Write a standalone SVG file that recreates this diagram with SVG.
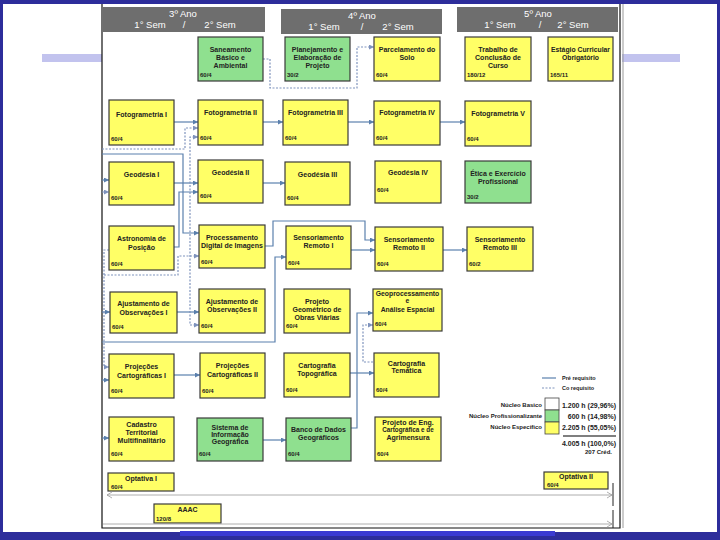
<svg xmlns="http://www.w3.org/2000/svg" width="720" height="540" viewBox="0 0 720 540">
<style>
.y{fill:#ffff66;stroke:#3a3a3a;stroke-width:1.2}
.g{fill:#8fe08f;stroke:#3a3a3a;stroke-width:1.2}
.t{font-family:"Liberation Sans",Arial,sans-serif;font-weight:bold;font-size:7px;fill:#222;text-anchor:middle}
.c{font-family:"Liberation Sans",Arial,sans-serif;font-weight:bold;font-size:6px;fill:#222}
.hd{fill:#6e6e6e}
.ht{font-family:"Liberation Sans",Arial,sans-serif;font-size:9.5px;fill:#fff;text-anchor:middle}
.s{stroke:#5b80ad;stroke-width:1.2;fill:none;marker-end:url(#a)}
.d{stroke:#7f93bd;stroke-width:1.2;stroke-dasharray:2 1.5;fill:none;marker-end:url(#ad)}
.lg{font-family:"Liberation Sans",Arial,sans-serif;font-weight:bold;font-size:6px;fill:#222}
.num{font-family:"Liberation Sans",Arial,sans-serif;font-weight:bold;font-size:7px;fill:#222;text-anchor:end}
</style>
<defs>
<marker id="a" markerUnits="userSpaceOnUse" markerWidth="6" markerHeight="6" refX="5" refY="2.5" orient="auto"><path d="M0,0 L5,2.5 L0,5 z" fill="#5b80ad"/></marker>
<marker id="ad" markerUnits="userSpaceOnUse" markerWidth="6" markerHeight="6" refX="5" refY="2.5" orient="auto-start-reverse"><path d="M0,0 L5,2.5 L0,5 z" fill="#7f93bd"/></marker>
</defs>
<g id="background">
<rect x="0" y="0" width="720" height="540" fill="#2d2d9b"/>
<rect x="3" y="4" width="714" height="528" fill="#ffffff"/>
<rect x="180" y="531" width="375" height="5" fill="#3a3ad2"/>
<rect x="42" y="54" width="60" height="8" fill="#c2c3ee"/>
<rect x="622" y="54" width="58" height="8" fill="#c2c3ee"/>
<path d="M102,4 V528 H620 V4" fill="none" stroke="#111" stroke-width="1.2"/>
<path d="M623,4 V528" fill="none" stroke="#999" stroke-width="1"/>
</g>
<g id="headers">
<rect class="hd" x="103" y="7" width="162" height="25"/>
<text class="ht" x="183" y="17">3º Ano</text>
<text class="ht" x="150" y="28">1° Sem</text><text class="ht" x="184" y="28">/</text><text class="ht" x="220" y="28">2° Sem</text>
<rect class="hd" x="281" y="9" width="161" height="25"/>
<text class="ht" x="362" y="19">4º Ano</text>
<text class="ht" x="324" y="30">1° Sem</text><text class="ht" x="362" y="30">/</text><text class="ht" x="398" y="30">2° Sem</text>
<rect class="hd" x="457" y="7" width="161" height="25"/>
<text class="ht" x="538" y="17">5º Ano</text>
<text class="ht" x="500" y="28">1° Sem</text><text class="ht" x="540" y="28">/</text><text class="ht" x="573" y="28">2° Sem</text>
</g>
<g id="connectors">
<path class="s" d="M174,122 H198"/>
<path class="s" d="M263,122 H283"/>
<path class="s" d="M348,122 H374"/>
<path class="s" d="M440,122 H465"/>
<path class="s" d="M174,183 H198"/>
<path class="s" d="M174,247 H179 V192 H198"/>
<path class="s" d="M263,183 H285"/>
<path class="s" d="M102,154 H183 V233 H199"/>
<path class="s" d="M265,246 H273 V221 H365 V240 H375"/>
<path class="s" d="M351,250 H375"/>
<path class="s" d="M443,250 H467"/>
<path class="s" d="M102,342 H275 V257 H286"/>
<path class="s" d="M177,312 H199"/>
<path class="s" d="M174,375 H200"/>
<path class="s" d="M350,373 H374"/>
<path class="s" d="M351,428 H357 V313 H373"/>
<path class="s" d="M263,440 H286"/>
<path class="s" d="M102,180 H109"/>
<path class="s" d="M102,312 H110"/>
<path class="s" d="M102,380 H109"/>
<path class="s" d="M102,438 H109"/>
<path class="d" d="M263,59 H270 V88 H357 V47 H374"/>
<path class="d" d="M102,149 H185 V128 H198"/>
<path class="d" d="M199,325 H190 V137 H198" style="marker-start:url(#ad)"/>
<path class="d" d="M109,250 H104 V367 H109"/>
<path class="d" d="M104,275 H178 V256 H199"/>
<path class="d" d="M102,192 H109"/>
<path class="d" d="M373,362 H363 V325 H373"/>
</g>
<g id="n-saneamento"><rect class="g" x="198" y="37" width="65" height="44"/><text class="t"><tspan x="230.5" y="52">Saneamento</tspan><tspan x="230.5" y="60">Básico e</tspan><tspan x="230.5" y="68">Ambiental</tspan></text><text class="c" x="200" y="77">60/4</text></g>
<g id="n-planejamento"><rect class="g" x="285" y="37" width="65" height="44"/><text class="t"><tspan x="317.5" y="52">Planejamento e</tspan><tspan x="317.5" y="60">Elaboração de</tspan><tspan x="317.5" y="68">Projeto</tspan></text><text class="c" x="287" y="77">30/2</text></g>
<g id="n-parcelamento"><rect class="y" x="374" y="37" width="66" height="44"/><text class="t"><tspan x="407" y="52">Parcelamento do</tspan><tspan x="407" y="60">Solo</tspan></text><text class="c" x="376" y="77">60/4</text></g>
<g id="n-tcc"><rect class="y" x="465" y="37" width="66" height="44"/><text class="t"><tspan x="498" y="52">Trabalho de</tspan><tspan x="498" y="60">Conclusão de</tspan><tspan x="498" y="68">Curso</tspan></text><text class="c" x="467" y="77">180/12</text></g>
<g id="n-estagio"><rect class="y" x="548" y="37" width="65" height="44"/><text class="t" style="font-size:6.8px"><tspan x="580.5" y="52">Estágio Curricular</tspan><tspan x="580.5" y="60">Obrigatório</tspan></text><text class="c" x="550" y="77">165/11</text></g>
<g id="n-foto1"><rect class="y" x="109" y="100" width="65" height="45"/><text class="t" x="141.5" y="117">Fotogrametria I</text><text class="c" x="111" y="141">60/4</text></g>
<g id="n-foto2"><rect class="y" x="198" y="100" width="65" height="45"/><text class="t" x="230.5" y="115">Fotogrametria II</text><text class="c" x="200" y="140">60/4</text></g>
<g id="n-foto3"><rect class="y" x="283" y="100" width="65" height="45"/><text class="t" x="315.5" y="115">Fotogrametria III</text><text class="c" x="285" y="140">60/4</text></g>
<g id="n-foto4"><rect class="y" x="374" y="101" width="66" height="44"/><text class="t" x="407" y="115">Fotogrametria IV</text><text class="c" x="376" y="140">60/4</text></g>
<g id="n-foto5"><rect class="y" x="465" y="101" width="66" height="45"/><text class="t" x="498" y="116">Fotogrametria V</text><text class="c" x="467" y="141">60/4</text></g>
<g id="n-geo1"><rect class="y" x="109" y="162" width="65" height="43"/><text class="t" x="141.5" y="177">Geodésia I</text><text class="c" x="111" y="200">60/4</text></g>
<g id="n-geo2"><rect class="y" x="198" y="160" width="65" height="43"/><text class="t" x="230.5" y="175">Geodésia II</text><text class="c" x="200" y="198">60/4</text></g>
<g id="n-geo3"><rect class="y" x="285" y="162" width="65" height="43"/><text class="t" x="317.5" y="177">Geodésia III</text><text class="c" x="287" y="200">60/4</text></g>
<g id="n-geo4"><rect class="y" x="375" y="161" width="66" height="42"/><text class="t" x="408" y="175">Geodésia IV</text><text class="c" x="377" y="192">60/4</text></g>
<g id="n-etica"><rect class="g" x="465" y="161" width="66" height="42"/><text class="t"><tspan x="498" y="176">Ética e Exercício</tspan><tspan x="498" y="184">Profissional</tspan></text><text class="c" x="467" y="199">30/2</text></g>
<g id="n-astro"><rect class="y" x="109" y="226" width="65" height="44"/><text class="t"><tspan x="141.5" y="241">Astronomia de</tspan><tspan x="141.5" y="250">Posição</tspan></text><text class="c" x="111" y="266">60/4</text></g>
<g id="n-pdi"><rect class="y" x="199" y="225" width="66" height="43"/><text class="t"><tspan x="232" y="240">Processamento</tspan><tspan x="232" y="248">Digital de Imagens</tspan></text><text class="c" x="201" y="264">60/4</text></g>
<g id="n-sr1"><rect class="y" x="286" y="226" width="65" height="43"/><text class="t"><tspan x="318.5" y="240">Sensoriamento</tspan><tspan x="318.5" y="248">Remoto I</tspan></text><text class="c" x="288" y="265">60/4</text></g>
<g id="n-sr2"><rect class="y" x="375" y="227" width="68" height="44"/><text class="t"><tspan x="409" y="242">Sensoriamento</tspan><tspan x="409" y="250">Remoto II</tspan></text><text class="c" x="377" y="266">60/4</text></g>
<g id="n-sr3"><rect class="y" x="467" y="227" width="66" height="44"/><text class="t"><tspan x="500" y="242">Sensoriamento</tspan><tspan x="500" y="250">Remoto III</tspan></text><text class="c" x="469" y="266">60/2</text></g>
<g id="n-aj1"><rect class="y" x="110" y="292" width="67" height="41"/><text class="t"><tspan x="143.5" y="306">Ajustamento de</tspan><tspan x="143.5" y="315">Observações I</tspan></text><text class="c" x="112" y="329">60/4</text></g>
<g id="n-aj2"><rect class="y" x="199" y="289" width="66" height="44"/><text class="t"><tspan x="232" y="304">Ajustamento de</tspan><tspan x="232" y="312">Observações II</tspan></text><text class="c" x="201" y="328">60/4</text></g>
<g id="n-pgeo"><rect class="y" x="284" y="289" width="66" height="44"/><text class="t"><tspan x="317" y="304">Projeto</tspan><tspan x="317" y="312">Geométrico de</tspan><tspan x="317" y="320">Obras Viárias</tspan></text><text class="c" x="286" y="328">60/4</text></g>
<g id="n-geoproc"><rect class="y" x="373" y="289" width="69" height="42"/><text class="t" style="font-size:6.8px"><tspan x="407.5" y="296">Geoprocessamento</tspan><tspan x="407.5" y="303">e</tspan><tspan x="407.5" y="312">Análise Espacial</tspan></text><text class="c" x="375" y="326">60/4</text></g>
<g id="n-proj1"><rect class="y" x="109" y="354" width="65" height="44"/><text class="t"><tspan x="141.5" y="369">Projeções</tspan><tspan x="141.5" y="378">Cartográficas I</tspan></text><text class="c" x="111" y="393">60/4</text></g>
<g id="n-proj2"><rect class="y" x="200" y="353" width="65" height="45"/><text class="t"><tspan x="232.5" y="368">Projeções</tspan><tspan x="232.5" y="377">Cartográficas II</tspan></text><text class="c" x="202" y="393">60/4</text></g>
<g id="n-ctop"><rect class="y" x="284" y="353" width="66" height="44"/><text class="t"><tspan x="317" y="368">Cartografia</tspan><tspan x="317" y="376">Topográfica</tspan></text><text class="c" x="286" y="392">60/4</text></g>
<g id="n-ctem"><rect class="y" x="374" y="353" width="65" height="44"/><text class="t"><tspan x="406.5" y="366">Cartografia</tspan><tspan x="406.5" y="373">Temática</tspan></text><text class="c" x="376" y="392">60/4</text></g>
<g id="n-cad"><rect class="y" x="109" y="417" width="65" height="44"/><text class="t"><tspan x="141.5" y="427">Cadastro</tspan><tspan x="141.5" y="435">Territorial</tspan><tspan x="141.5" y="443">Multifinalitário</tspan></text><text class="c" x="111" y="456">60/4</text></g>
<g id="n-sig"><rect class="g" x="197" y="418" width="66" height="43"/><text class="t"><tspan x="230" y="430">Sistema de</tspan><tspan x="230" y="437">Informação</tspan><tspan x="230" y="444">Geográfica</tspan></text><text class="c" x="199" y="456">60/4</text></g>
<g id="n-bdg"><rect class="g" x="286" y="418" width="65" height="43"/><text class="t"><tspan x="318.5" y="432">Banco de Dados</tspan><tspan x="318.5" y="440">Geográficos</tspan></text><text class="c" x="288" y="456">60/4</text></g>
<g id="n-peng"><rect class="y" x="375" y="417" width="66" height="44"/><text class="t"><tspan x="408" y="425">Projeto de Eng.</tspan><tspan x="408" y="432" style="font-size:6.3px">Cartográfica e de</tspan><tspan x="408" y="440">Agrimensura</tspan></text><text class="c" x="377" y="456">60/4</text></g>
<g id="n-opt1"><rect class="y" x="108" y="473" width="66" height="18"/><text class="t" x="141" y="481">Optativa I</text><text class="c" x="111" y="489">60/4</text></g>
<g id="n-aaac"><rect class="y" x="154" y="504" width="67" height="19"/><text class="t" x="187.5" y="512">AAAC</text><text class="c" x="156" y="521">120/8</text></g>
<g id="n-opt2"><rect class="y" x="544" y="472" width="64" height="17"/><text class="t" x="576" y="479">Optativa II</text><text class="c" x="547" y="487">60/4</text></g>
<g id="timeline">
<path d="M107,495 H612 M112,492 L107,495 L112,498 M607,492 L612,495 L607,498" fill="none" stroke="#9a9a9a" stroke-width="0.8"/>
<path d="M103,524 H612 M607,521 L612,524 L607,527" fill="none" stroke="#9a9a9a" stroke-width="0.8"/>
<path d="M613,483 V506 M613,510 V528" fill="none" stroke="#222" stroke-width="1"/>
</g>
<g id="legend">
<path d="M542,378 H556" stroke="#5b80ad" stroke-width="1.2" fill="none"/>
<text class="lg" x="562" y="380" style="font-size:5.5px">Pré requisito</text>
<path d="M542,388 H556" stroke="#7f93bd" stroke-width="1.2" stroke-dasharray="2 1.5" fill="none"/>
<text class="lg" x="562" y="390" style="font-size:5.5px">Co requisito</text>
<text class="lg" x="542" y="407" text-anchor="end">Núcleo Basico</text>
<text class="lg" x="542" y="418" text-anchor="end">Núcleo Profissionalizante</text>
<text class="lg" x="542" y="429" text-anchor="end">Núcleo Especifico</text>
<rect x="545" y="398" width="14" height="12" fill="#ffffff" stroke="#444" stroke-width="0.8"/>
<rect x="545" y="410" width="14" height="12" fill="#8fe08f" stroke="#444" stroke-width="0.8"/>
<rect x="545" y="422" width="14" height="12" fill="#ffff66" stroke="#444" stroke-width="0.8"/>
<text class="num" x="616" y="408">1.200 h (29,96%)</text>
<text class="num" x="616" y="419">600 h (14,98%)</text>
<text class="num" x="616" y="430">2.205 h (55,05%)</text>
<path d="M563,436 H616" stroke="#555" stroke-width="1.5"/>
<text class="num" x="616" y="446">4.005 h (100,0%)</text>
<text class="num" x="612" y="454" style="font-size:6px">207 Créd.</text>
</g>
</svg>
